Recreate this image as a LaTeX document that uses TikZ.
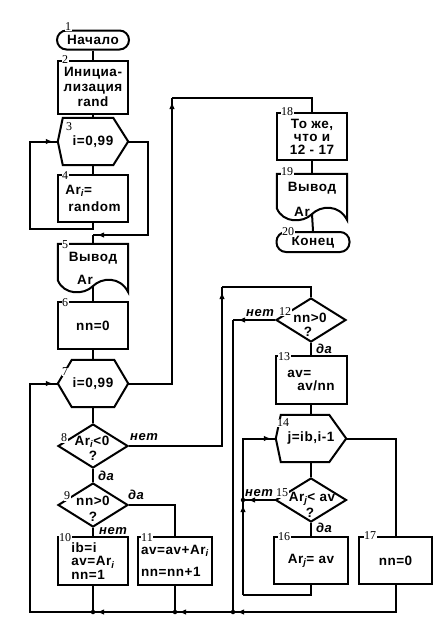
\documentclass[tikz,border=0pt]{standalone}
\usepackage{fontspec}
\setmainfont{Liberation Sans}[LetterSpace=4]
\newfontfamily\numfont{Liberation Serif}
\usetikzlibrary{shapes.geometric,arrows.meta,decorations.markings,calc}

\tikzset{
  shp/.style={draw=black, line width=2pt},
  ln/.style={line width=2pt},
  txt/.style={font=\bfseries\fontsize{13.5}{15}\selectfont, inner sep=0pt, align=center},
  boxn/.style={shp, rectangle, minimum width=70pt, minimum height=47pt, inner sep=0pt, txt},
  hexn/.style={rectangle, minimum width=70pt, minimum height=47pt, inner sep=0pt, txt},
  docn/.style={rectangle, minimum width=70pt, minimum height=48pt, inner sep=0pt},
  term/.style={shp, rectangle, rounded corners=9.5pt, minimum width=72pt, minimum height=19pt, inner sep=0pt, txt},
  dia/.style={shp, diamond, minimum width=70pt, minimum height=44pt, inner sep=0pt},
  num/.style={font=\numfont\fontsize{12}{12}\selectfont, inner sep=0.5pt, fill=white},
  lab/.style={font=\bfseries\itshape\fontsize{13}{13}\selectfont, inner sep=0pt},
  arr/.style={postaction={decorate}, decoration={markings, mark=at position #1 with {\arrow{Latex[length=7pt,width=5.5pt]}}}},
  jd/.style={circle, fill=black, inner sep=0pt, minimum size=4.5pt}
}

\newcommand{\hexshape}[3]{%
  \draw[shp] (#1.west) -- ($(#1.north west)+(#2,0)$) -- ($(#1.north east)+(-#3,0)$) -- (#1.east)
     -- ($(#1.south east)+(-#3,0)$) -- ($(#1.south west)+(#2,0)$) -- cycle;}
\newcommand{\docshape}[1]{%
  \draw[shp] (#1.north west) -- (#1.north east) -- (#1.south east)
     .. controls ($(#1.south east)+(-8,-16)$) and ($(#1.south west)+(44,-15)$) .. ($(#1.south west)+(35,-6)$)
     .. controls ($(#1.south west)+(26,3)$) and ($(#1.south west)+(6,3)$) .. ($(#1.south west)+(0,-12)$) -- cycle;}

\begin{document}
\begin{tikzpicture}[x=1pt,y=-1pt]
\fill[white] (0,0) rectangle (447,629);
\useasboundingbox (0,0) rectangle (447,629);

% left column
\node[term] (n1) at (93,40) {Начало};
\node[boxn, minimum height=53pt] (n2) at (93,87) {Инициа-\\лизация\\rand};
\node[hexn] (n3) at (93,141.5) {i=0,99};
\hexshape{n3}{5}{15}
\node[boxn, align=left] (n4) at (93,198.5) {Ar\textsubscript{\itshape i}=\\[2pt]\hspace{3pt}random};
\node[docn] (n5) at (93,268) {};
\docshape{n5}
\node[txt] (t5a) at (93,258) {Вывод};
\node[txt] (t5b) at (85,280) {Ar};
\node[boxn] (n6) at (93,325.5) {nn=0};
\node[hexn] (n7) at (93,383.5) {i=0,99};
\hexshape{n7}{14}{14}
\node[dia] (n8) at (93,446) {};
\node[txt] (t8) at (92,442) {Ar\textsubscript{\itshape i}<0};
\node[txt] (q8) at (93,456) {?};
\node[dia] (n9) at (93,505) {};
\node[txt] (t9) at (93,501) {nn>0};
\node[txt] (q9) at (93,517) {?};
\node[boxn, minimum height=48pt, align=left] (n10) at (93,561) {ib=i\\[-1.5pt]av=Ar\textsubscript{\itshape i}\\[-1.5pt]nn=1};
\node[boxn, minimum width=74pt, minimum height=48pt, align=left] (n11) at (175,561) {av=av+Ar\textsubscript{\itshape i}\\[7pt]nn=nn+1};

% right column
\node[boxn] (n18) at (312,136.5) {То же,\\[-2pt]что и\\[-2pt]12 - 17};
\node[docn, minimum height=46pt] (n19) at (312,197) {};
\docshape{n19}
\node[txt] (t19a) at (312,188) {Вывод};
\node[txt] (t19b) at (302,212) {Ar};
\node[term, minimum width=73pt, minimum height=20pt] (n20) at (313,242) {Конец};
\node[dia] (n12) at (311,320) {};
\node[txt] (t12) at (310,318) {nn>0};
\node[txt] (q12) at (308,332) {?};
\node[boxn, minimum width=71pt, minimum height=48pt, align=left] (n13) at (311,380) {av=\\[-2pt]\hspace{10pt}av/nn};
\node[hexn] (n14) at (311,438.5) {j=ib,i-1};
\hexshape{n14}{5}{17}
\node[dia, minimum width=71pt] (n15) at (311,500) {};
\node[txt] (t15) at (312,499) {Ar\textsubscript{\itshape j}< av};
\node[txt] (q15) at (310,513) {?};
\node[boxn, minimum width=74pt] (n16) at (311,560.5) {Ar\textsubscript{\itshape j}= av};
\node[boxn, minimum width=73pt] (n17) at (395.5,560.5) {nn=0};

% helper coordinates
\coordinate (c4) at (30,229);
\coordinate (c3) at (148,235);
\coordinate (j5) at (93,235);
\coordinate (w5) at (93,286);
\coordinate (w19) at (312,214);
\coordinate (c7) at (172,98);
\coordinate (c8) at (222,287);
\coordinate (c12) at (233,320);
\coordinate (j243) at (243,500);
\coordinate (c16) at (243,595);
\coordinate (j93) at (93,612);
\coordinate (j174) at (175,612);
\coordinate (j233) at (233,612);
\coordinate (cbl) at (30,612);

% connectors
\draw[ln] (n1.south) -- (n2.north);
\draw[ln] (n2.south) -- (n3.north);
\draw[ln] (n3.south) -- (n4.north);
\draw[ln, arr=-5pt] (n4.south) |- (c4) |- (n3.west);
\draw[ln, arr=-4pt] (n3.east) -| (c3) -- (j5);
\draw[ln] (j5) -- (n5.north);
\draw[ln] (w5) -- (n6.north);
\draw[ln] (n6.south) -- (n7.north);
\draw[ln, arr=-4pt] (n7.east) -| (c7);
\draw[ln] (c7) -| (n18.north);
\draw[ln] (n18.south) -- (n19.north);
\draw[ln] (w19) -- (n20.north);
\draw[ln] (n7.south) -- (n8.north);
\draw[ln, arr=-5pt] (n8.east) -| (c8);
\draw[ln] (c8) -| (n12.north);
\draw[ln] (n8.south) -- (n9.north);
\draw[ln] (n9.east) -| (n11.north);
\draw[ln] (n9.south) -- (n10.north);
\draw[ln] (n10.south) -- (j93);
\draw[ln] (n11.south) -- (j174);
\draw[ln, arr=-5pt] (n12.west) -- (c12);
\draw[ln] (c12) -- (j233);
\draw[ln] (n12.south) -- (n13.north);
\draw[ln] (n13.south) -- (n14.north);
\draw[ln] (n14.south) -- (n15.north);
\draw[ln] (n14.east) -| (n17.north);
\draw[ln, arr=-5pt] (n15.west) -- (j243);
\draw[ln] (n15.south) -- (n16.north);
\draw[ln] (n16.south) |- (c16);
\draw[ln, arr=-5pt] (c16) -- (j243);
\draw[ln, arr=-5pt] (j243) |- (n14.west);
\draw[ln, arr=-4pt] (n17.south) |- (j233);
\draw[ln, arr=-4pt] (j233) -- (j174);
\draw[ln, arr=-4pt] (j174) -- (j93);
\draw[ln, arr=-5pt] (j93) -- (cbl) |- (n7.west);

% junction dots
\node[jd] (d1) at (j93) {};
\node[jd] (d2) at (j174) {};
\node[jd] (d3) at (j233) {};
\node[jd] (d4) at (j243) {};

% branch labels
\node[lab] (l8n) at (144,437) {нет};
\node[lab] (l8d) at (106,476) {да};
\node[lab] (l9d) at (136,495) {да};
\node[lab] (l9n) at (113,531) {нет};
\node[lab] (l12n) at (260,313) {нет};
\node[lab] (l12d) at (324,349) {да};
\node[lab] (l15n) at (259,493) {нет};
\node[lab] (l15d) at (324,528) {да};

% block numbers
\node[num] (k1) at (68,27) {1};
\node[num] (k2) at (65,60) {2};
\node[num] (k3) at (69,127) {3};
\node[num] (k4) at (65,176) {4};
\node[num] (k5) at (65,245) {5};
\node[num] (k6) at (65,303) {6};
\node[num] (k7) at (65,372) {7};
\node[num] (k8) at (64,438) {8};
\node[num] (k9) at (67,496) {9};
\node[num] (k10) at (65,538) {10};
\node[num] (k11) at (147,538) {11};
\node[num] (k12) at (285,312) {12};
\node[num] (k13) at (284,357) {13};
\node[num] (k14) at (283,423) {14};
\node[num] (k15) at (282,493) {15};
\node[num] (k16) at (284,537) {16};
\node[num] (k17) at (370,536) {17};
\node[num] (k18) at (287,112) {18};
\node[num] (k19) at (287,172) {19};
\node[num] (k20) at (288,232) {20};
\end{tikzpicture}
\end{document}
